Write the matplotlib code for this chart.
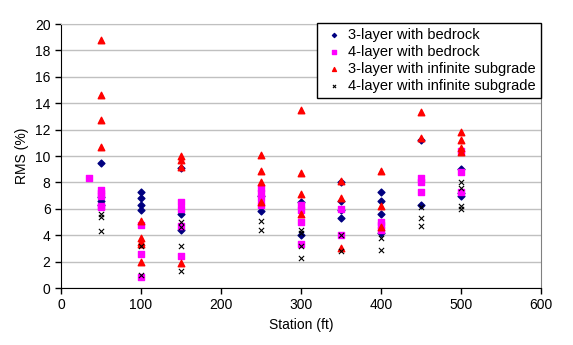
import matplotlib
matplotlib.use('Agg')
import matplotlib.pyplot as plt

plt.rcParams['font.family'] = ['Liberation Sans', 'DejaVu Sans']

# 3-layer with bedrock
st_3b = [50, 50, 50, 50, 100, 100, 100, 100, 150, 150, 150, 250, 250, 300, 300, 350, 350, 350, 350,
         400, 400, 400, 400, 450, 450, 500, 500, 500]
rms_3b = [9.5, 6.9, 6.6, 6.3, 7.3, 6.8, 6.3, 5.9, 9.1, 5.6, 4.4, 7.0, 5.8, 6.5, 4.0, 8.0, 6.6, 5.9, 5.3,
          7.3, 6.6, 5.6, 4.2, 11.2, 6.3, 9.0, 7.2, 7.0]

# 4-layer with bedrock
st_4b = [35, 50, 50, 50, 50, 50, 100, 100, 100, 150, 150, 150, 150, 250, 250, 250, 250,
         300, 300, 300, 300, 350, 350, 400, 400, 400, 450, 450, 450, 500, 500, 500]
rms_4b = [8.3, 7.4, 7.2, 7.0, 6.2, 6.1, 4.8, 2.6, 0.8, 6.5, 6.0, 4.7, 2.4, 7.6, 7.2, 6.8, 6.3,
          6.3, 5.9, 5.0, 3.3, 6.0, 4.0, 5.0, 4.8, 4.4, 8.3, 8.0, 7.3, 10.4, 8.8, 7.3]

# 3-layer with infinite subgrade
st_3i = [50, 50, 50, 50, 100, 100, 100, 100, 100, 150, 150, 150, 150, 250, 250, 250, 250,
         300, 300, 300, 300, 350, 350, 350, 400, 400, 400, 450, 450, 500, 500, 500, 500]
rms_3i = [18.8, 14.6, 12.7, 10.7, 5.1, 3.8, 3.5, 3.3, 2.0, 10.0, 9.7, 9.2, 1.9, 10.1, 8.9, 8.0, 6.5,
          13.5, 8.7, 7.1, 5.6, 8.1, 6.8, 3.0, 8.9, 6.2, 4.6, 13.3, 11.4, 11.8, 11.2, 10.6, 10.3]

# 4-layer with infinite subgrade
st_4i = [50, 50, 50, 100, 100, 150, 150, 150, 150, 250, 250, 300, 300, 300, 300,
         350, 350, 400, 400, 450, 450, 450, 500, 500, 500, 500]
rms_4i = [5.6, 5.4, 4.3, 3.2, 1.0, 5.0, 4.6, 3.2, 1.3, 5.1, 4.4, 4.4, 4.2, 3.2, 2.3,
          4.0, 2.8, 3.8, 2.9, 6.1, 5.3, 4.7, 8.0, 7.6, 6.2, 6.0]

fig = plt.figure(figsize=(5.73, 3.45), dpi=100)
ax = fig.add_axes([61/573, 1 - 288/345, 480/573, 264/345])

ax.scatter(st_3b, rms_3b, marker='D', s=12, color='#000080', label='3-layer with bedrock', zorder=3)
ax.scatter(st_4b, rms_4b, marker='s', s=24, color='#FF00FF', label='4-layer with bedrock', zorder=3)
ax.scatter(st_3i, rms_3i, marker='^', s=22, color='#FF0000', label='3-layer with infinite subgrade', zorder=3)
ax.scatter(st_4i, rms_4i, marker='x', s=14, color='black', linewidths=0.8,
           label='4-layer with infinite subgrade', zorder=3)

ax.set_xlim(0, 600)
ax.set_ylim(0, 20)
ax.set_xticks(range(0, 601, 100))
ax.set_yticks(range(0, 21, 2))
ax.yaxis.grid(True, color='#C0C0C0', linewidth=1)
ax.set_axisbelow(True)
ax.tick_params(labelsize=10, direction='out', length=4, width=1)
ax.spines['top'].set_color('#C0C0C0')
ax.spines['right'].set_color('#808080')
ax.set_xlabel('Station (ft)', fontsize=10)
ax.set_ylabel('RMS (%)', fontsize=10)

leg = ax.legend(loc='upper right', bbox_to_anchor=(1.0, 1.005), borderaxespad=0, fontsize=10.5,
                frameon=True, fancybox=False, framealpha=1, edgecolor='black', handletextpad=0.2,
                borderpad=0.35, labelspacing=0.2, handlelength=1.6, markerscale=0.6)
leg.get_frame().set_linewidth(1)

fig.savefig('out.png', dpi=100)
